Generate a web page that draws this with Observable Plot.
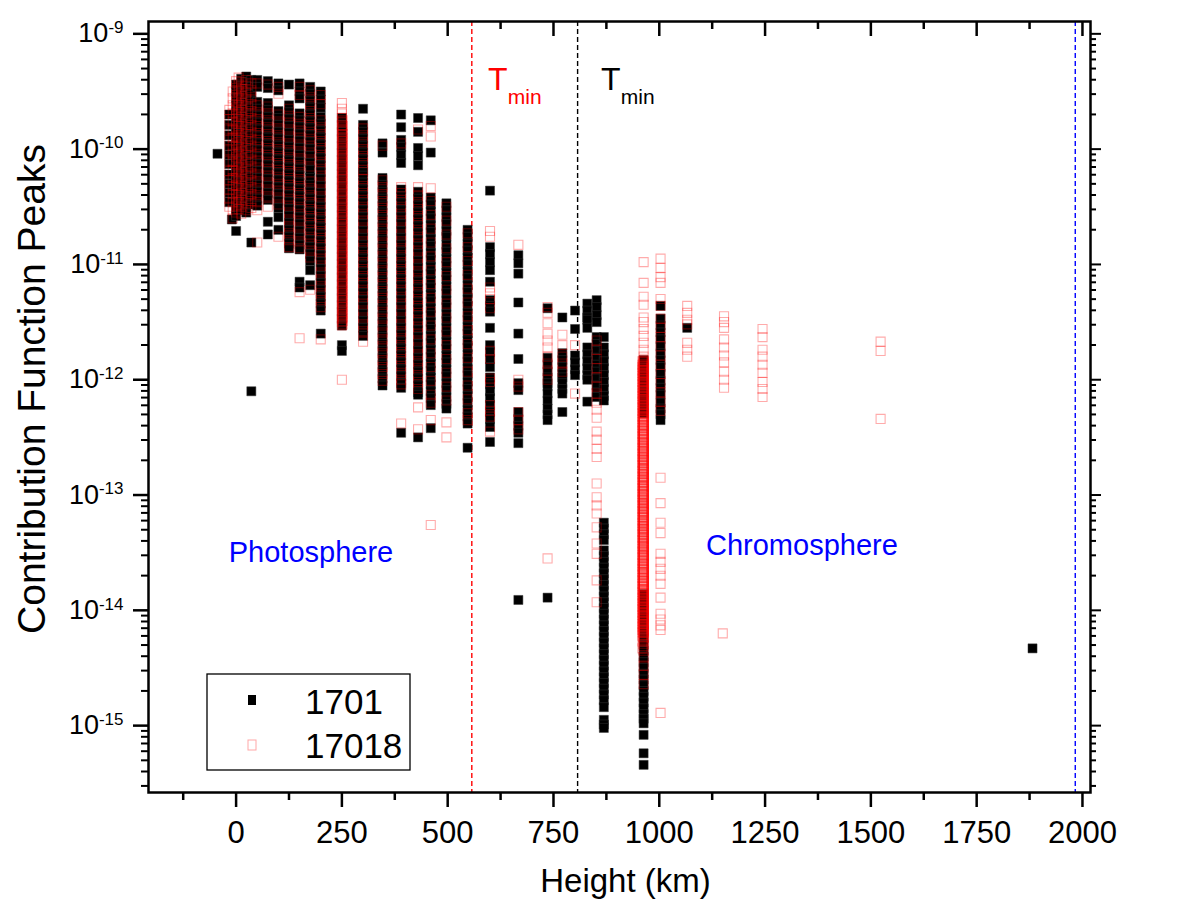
<!DOCTYPE html>
<html><head><meta charset="utf-8">
<script src="https://cdn.jsdelivr.net/npm/d3@7"></script>
<script src="https://cdn.jsdelivr.net/npm/@observablehq/plot@0.6"></script>
<style>
body{margin:0;background:#fff;}
#chart{width:1196px;height:919px;}
</style></head><body><div id="chart"></div>
<script>
// Each entry: [height km, [log10 of contribution function peak values]]
const cols1701 = [
 [-44,[-10.04]],
 [-16,[-9.70,-9.79,-9.88,-9.97,-10.05,-10.13,-10.22,-10.30,-10.38,-10.46]],
 [-10,[-10.61]],
 [0,[-9.44,-9.50,-9.56,-9.62,-9.68,-9.74,-9.80,-9.86,-9.92,-9.98,-10.04,-10.10,-10.16,-10.22,-10.28,-10.34,-10.40,-10.46,-10.52,-10.58,-10.71]],
 [12,[-9.39,-9.45,-9.51,-9.57,-9.63,-9.69,-9.75,-9.81,-9.87,-9.93,-9.99,-10.05,-10.11,-10.17,-10.23,-10.29,-10.35,-10.41,-10.47,-10.53]],
 [24,[-9.37,-9.42,-9.48,-9.54,-9.60,-9.66,-9.72,-9.78,-9.84,-9.90,-9.96,-10.02,-10.08,-10.14,-10.20,-10.26,-10.32,-10.38,-10.44,-10.50,-10.55]],
 [36,[-9.40,-9.46,-9.52,-9.58,-9.64,-9.70,-9.76,-9.82,-9.88,-9.94,-10.00,-10.06,-10.12,-10.18,-10.24,-10.30,-10.36,-10.42,-10.48,-10.81,-12.10]],
 [50,[-9.40,-9.46,-9.59,-9.65,-9.71,-9.77,-9.83,-9.89,-9.95,-10.01,-10.07,-10.13,-10.19,-10.25,-10.31,-10.37,-10.43,-10.49]],
 [75,[-9.41,-9.47,-9.60,-9.66,-9.72,-9.78,-9.84,-9.90,-9.96,-10.02,-10.08,-10.14,-10.20,-10.26,-10.32,-10.38,-10.44,-10.63,-10.74]],
 [100,[-9.43,-9.49,-9.67,-9.73,-9.79,-9.85,-9.91,-9.97,-10.03,-10.09,-10.15,-10.21,-10.27,-10.33,-10.39,-10.45,-10.51,-10.59,-10.70]],
 [125,[-9.44,-9.62,-9.68,-9.74,-9.80,-9.86,-9.92,-9.98,-10.04,-10.10,-10.16,-10.22,-10.28,-10.34,-10.40,-10.46,-10.52,-10.58,-10.64,-10.70,-10.76,-10.82,-10.86]],
 [150,[-9.43,-9.50,-9.56,-9.69,-9.75,-9.81,-9.87,-9.93,-9.99,-10.05,-10.11,-10.17,-10.23,-10.29,-10.35,-10.41,-10.47,-10.53,-10.59,-10.65,-10.71,-10.77,-10.83,-10.87,-11.15,-11.20]],
 [175,[-9.46,-9.52,-9.58,-9.64,-9.70,-9.76,-9.82,-9.88,-9.94,-10.00,-10.06,-10.12,-10.18,-10.25,-10.31,-10.37,-10.43,-10.49,-10.55,-10.61,-10.67,-10.73,-10.79,-10.85,-10.91,-10.97,-11.05,-11.18]],
 [200,[-9.50,-9.57,-9.64,-9.72,-9.78,-9.84,-9.90,-9.96,-10.02,-10.08,-10.14,-10.20,-10.26,-10.32,-10.38,-10.44,-10.50,-10.56,-10.62,-10.68,-10.74,-10.80,-10.86,-10.92,-10.98,-11.04,-11.10,-11.16,-11.22,-11.28,-11.34,-11.40,-11.60]],
 [250,[-9.73,-9.79,-9.85,-9.91,-9.97,-10.03,-10.09,-10.15,-10.21,-10.27,-10.33,-10.39,-10.45,-10.51,-10.57,-10.63,-10.69,-10.75,-10.81,-10.87,-10.93,-10.99,-11.05,-11.11,-11.17,-11.23,-11.29,-11.35,-11.41,-11.47,-11.53,-11.70,-11.75]],
 [300,[-9.65,-9.79,-9.85,-9.91,-9.97,-10.03,-10.09,-10.15,-10.20,-10.23,-10.29,-10.35,-10.41,-10.47,-10.53,-10.59,-10.65,-10.71,-10.77,-10.83,-10.89,-10.95,-11.01,-11.07,-11.13,-11.19,-11.25,-11.31,-11.37,-11.43,-11.49,-11.55,-11.62]],
 [346,[-9.95,-10.03,-10.25,-10.31,-10.37,-10.43,-10.49,-10.55,-10.61,-10.67,-10.73,-10.79,-10.85,-10.91,-10.97,-11.03,-11.09,-11.15,-11.21,-11.27,-11.33,-11.39,-11.45,-11.51,-11.57,-11.63,-11.69,-11.75,-11.81,-11.87,-11.93,-11.99,-12.05]],
 [390,[-9.70,-9.81,-9.92,-9.98,-10.05,-10.12,-10.35,-10.41,-10.47,-10.53,-10.59,-10.65,-10.71,-10.77,-10.83,-10.89,-10.95,-11.01,-11.07,-11.13,-11.19,-11.25,-11.31,-11.37,-11.43,-11.49,-11.55,-11.61,-11.67,-11.73,-11.79,-11.85,-11.91,-11.97,-12.03,-12.07,-12.46]],
 [430,[-9.73,-9.85,-9.99,-10.06,-10.14,-10.37,-10.43,-10.49,-10.55,-10.61,-10.67,-10.73,-10.79,-10.85,-10.91,-10.97,-11.03,-11.09,-11.15,-11.21,-11.27,-11.33,-11.39,-11.45,-11.51,-11.57,-11.63,-11.69,-11.75,-11.81,-11.87,-11.93,-11.99,-12.05,-12.11,-12.13,-12.50]],
 [460,[-9.75,-10.03,-10.42,-10.48,-10.54,-10.60,-10.66,-10.72,-10.78,-10.84,-10.90,-10.96,-11.02,-11.08,-11.14,-11.20,-11.26,-11.32,-11.38,-11.44,-11.50,-11.56,-11.62,-11.68,-11.74,-11.80,-11.86,-11.92,-11.98,-12.04,-12.10,-12.16,-12.22,-12.42]],
 [497,[-10.47,-10.53,-10.59,-10.65,-10.71,-10.76,-10.83,-10.89,-10.95,-11.01,-11.07,-11.13,-11.19,-11.25,-11.31,-11.37,-11.43,-11.49,-11.55,-11.61,-11.67,-11.73,-11.79,-11.85,-11.91,-11.97,-12.03,-12.09,-12.15,-12.21,-12.25]],
 [547,[-10.70,-10.76,-10.82,-10.88,-10.94,-11.00,-11.06,-11.12,-11.18,-11.24,-11.30,-11.36,-11.42,-11.48,-11.54,-11.60,-11.66,-11.72,-11.78,-11.84,-11.90,-11.96,-12.02,-12.08,-12.14,-12.20,-12.26,-12.32,-12.38,-12.59]],
 [600,[-10.36,-10.85,-10.91,-10.98,-11.05,-11.15,-11.31,-11.36,-11.41,-11.55,-11.70,-11.76,-11.82,-11.89,-11.98,-12.04,-12.10,-12.16,-12.22,-12.28,-12.34,-12.41,-12.54]],
 [667,[-10.92,-10.99,-11.08,-11.33,-11.60,-11.82,-12.03,-12.09,-12.28,-12.34,-12.40,-12.46,-12.55,-13.91]],
 [736,[-11.38,-11.81,-11.87,-11.93,-11.98,-12.03,-12.06,-12.12,-12.18,-12.25,-12.30,-12.35,-13.89]],
 [771,[-11.46,-11.77,-11.83,-11.89,-11.95,-11.98,-12.03,-12.08,-12.12,-12.28]],
 [801,[-11.40,-11.56,-11.79,-11.85,-11.91,-11.96]],
 [830,[-11.34,-11.40,-11.46,-11.48,-11.55,-11.72,-11.78,-11.84,-11.90,-11.96,-12.00,-12.19]],
 [852,[-11.31,-11.37,-11.44,-11.50,-11.63,-11.69,-11.75,-11.81,-11.87,-11.93,-11.99,-12.05,-12.11,-12.15]],
 [869,[-11.63,-11.72,-11.78,-11.84,-11.90,-11.96,-12.02,-12.08,-12.14,-12.18,-13.24,-13.29,-13.34,-13.39,-13.48,-13.53,-13.58,-13.63,-13.68,-13.73,-13.78,-13.83,-13.88,-13.93,-13.98,-14.03,-14.08,-14.13,-14.18,-14.23,-14.28,-14.33,-14.38,-14.43,-14.48,-14.53,-14.58,-14.63,-14.68,-14.73,-14.78,-14.84,-14.95,-14.99,-15.02]],
 [963,[-11.83,-11.90,-11.97,-12.04,-12.11,-12.18,-12.25,-12.29,-13.86,-13.93,-14.00,-14.06,-14.12,-14.18,-14.24,-14.30,-14.35,-14.40,-14.45,-14.50,-14.55,-14.60,-14.65,-14.70,-14.75,-14.80,-14.85,-14.90,-14.94,-14.98,-15.08,-15.24,-15.34]],
 [1003,[-11.36,-11.47,-11.53,-11.59,-11.65,-11.71,-11.77,-11.83,-11.89,-11.95,-12.01,-12.07,-12.13,-12.20,-12.25,-12.30,-12.35]],
 [1066,[-11.55]],
 [1882,[-14.33]]
];
const cols17018 = [
 [-16,[-9.66,-9.74,-9.83,-9.92,-10.01,-10.10,-10.19,-10.27,-10.35,-10.43,-10.50]],
 [-8,[-9.50,-9.56,-9.62,-9.69,-9.76,-9.83,-9.90,-9.97,-10.04,-10.11,-10.18,-10.25,-10.32,-10.39,-10.46,-10.53,-10.60]],
 [0,[-9.41,-9.47,-9.53,-9.59,-9.65,-9.71,-9.77,-9.83,-9.89,-9.95,-10.01,-10.07,-10.13,-10.19,-10.25,-10.31,-10.37,-10.43,-10.49,-10.55]],
 [6,[-9.38,-9.44,-9.50,-9.56,-9.62,-9.68,-9.74,-9.80,-9.86,-9.92,-9.98,-10.04,-10.10,-10.16,-10.22,-10.28,-10.34,-10.40,-10.46,-10.52]],
 [12,[-9.42,-9.48,-9.54,-9.60,-9.66,-9.72,-9.78,-9.84,-9.90,-9.96,-10.02,-10.08,-10.14,-10.20,-10.26,-10.32,-10.38,-10.44,-10.50,-10.56]],
 [24,[-9.40,-9.45,-9.51,-9.57,-9.63,-9.69,-9.75,-9.81,-9.87,-9.93,-9.99,-10.05,-10.11,-10.17,-10.23,-10.29,-10.35,-10.41,-10.47,-10.53]],
 [36,[-9.43,-9.49,-9.55,-9.61,-9.67,-9.73,-9.79,-9.85,-9.91,-9.97,-10.03,-10.09,-10.15,-10.21,-10.27,-10.33,-10.39,-10.45,-10.51]],
 [50,[-9.43,-9.62,-9.68,-9.74,-9.80,-9.86,-9.92,-9.98,-10.04,-10.10,-10.16,-10.22,-10.28,-10.34,-10.40,-10.46,-10.53,-10.81]],
 [75,[-9.44,-9.63,-9.69,-9.75,-9.81,-9.87,-9.93,-9.99,-10.05,-10.11,-10.17,-10.23,-10.29,-10.35,-10.41,-10.50]],
 [100,[-9.46,-9.52,-9.70,-9.76,-9.82,-9.88,-9.94,-10.00,-10.06,-10.12,-10.18,-10.24,-10.30,-10.36,-10.42,-10.48,-10.76]],
 [125,[-9.65,-9.71,-9.77,-9.83,-9.89,-9.95,-10.01,-10.07,-10.13,-10.19,-10.25,-10.31,-10.37,-10.43,-10.49,-10.55,-10.61,-10.67,-10.73,-10.79,-10.85]],
 [150,[-9.46,-9.53,-9.72,-9.78,-9.84,-9.90,-9.96,-10.02,-10.08,-10.14,-10.20,-10.26,-10.32,-10.38,-10.44,-10.50,-10.56,-10.62,-10.68,-10.74,-10.80,-10.86,-11.24,-11.64]],
 [175,[-9.49,-9.55,-9.61,-9.67,-9.73,-9.79,-9.85,-9.91,-9.97,-10.03,-10.09,-10.15,-10.28,-10.34,-10.40,-10.46,-10.52,-10.58,-10.64,-10.70,-10.76,-10.82,-10.88,-10.94,-11.22]],
 [200,[-9.53,-9.61,-9.75,-9.81,-9.87,-9.93,-9.99,-10.05,-10.11,-10.17,-10.23,-10.29,-10.35,-10.41,-10.47,-10.53,-10.59,-10.65,-10.71,-10.77,-10.83,-10.89,-10.95,-11.01,-11.07,-11.13,-11.19,-11.25,-11.31,-11.37,-11.65]],
 [250,[-9.60,-9.65,-9.69,-9.73,-9.76,-9.79,-9.82,-9.85,-9.88,-9.91,-9.94,-9.97,-10.00,-10.03,-10.06,-10.09,-10.12,-10.15,-10.18,-10.21,-10.24,-10.27,-10.30,-10.33,-10.36,-10.39,-10.42,-10.45,-10.48,-10.51,-10.54,-10.57,-10.60,-10.63,-10.66,-10.69,-10.72,-10.75,-10.78,-10.81,-10.84,-10.87,-10.90,-10.93,-10.96,-10.99,-11.02,-11.05,-11.08,-11.11,-11.14,-11.17,-11.20,-11.23,-11.26,-11.29,-11.32,-11.35,-11.38,-11.41,-11.44,-11.47,-11.50,-11.53,-12.00]],
 [252,[-9.75,-9.80,-9.84,-9.87,-9.90,-9.93,-9.96,-9.99,-10.02,-10.05,-10.08,-10.11,-10.14,-10.17,-10.20,-10.23,-10.26,-10.29,-10.32,-10.35,-10.38,-10.41,-10.44,-10.47,-10.50,-10.53,-10.56,-10.59,-10.62,-10.65,-10.68,-10.71,-10.74,-10.77,-10.80,-10.83,-10.86,-10.89,-10.92,-10.95,-10.98,-11.01,-11.04,-11.07,-11.10,-11.13,-11.16,-11.19,-11.22,-11.25,-11.28,-11.31,-11.34,-11.37,-11.40,-11.43,-11.46,-11.49,-11.52]],
 [300,[-9.82,-9.88,-9.94,-10.00,-10.06,-10.12,-10.18,-10.26,-10.32,-10.38,-10.44,-10.50,-10.56,-10.62,-10.68,-10.74,-10.80,-10.86,-10.92,-10.98,-11.04,-11.10,-11.16,-11.22,-11.28,-11.34,-11.40,-11.46,-11.52,-11.58,-11.67]],
 [346,[-9.97,-10.27,-10.33,-10.39,-10.45,-10.51,-10.57,-10.63,-10.69,-10.75,-10.81,-10.87,-10.93,-10.99,-11.05,-11.11,-11.17,-11.23,-11.29,-11.35,-11.41,-11.47,-11.53,-11.59,-11.65,-11.71,-11.77,-11.83,-11.89,-11.95,-12.01]],
 [390,[-9.95,-10.33,-10.38,-10.44,-10.50,-10.56,-10.62,-10.68,-10.74,-10.80,-10.86,-10.92,-10.98,-11.04,-11.10,-11.16,-11.22,-11.28,-11.34,-11.40,-11.46,-11.52,-11.58,-11.64,-11.70,-11.76,-11.82,-11.88,-11.94,-12.00,-12.04,-12.38]],
 [430,[-9.83,-10.33,-10.40,-10.46,-10.52,-10.58,-10.64,-10.70,-10.76,-10.82,-10.88,-10.94,-11.00,-11.06,-11.12,-11.18,-11.24,-11.30,-11.36,-11.42,-11.48,-11.54,-11.60,-11.66,-11.72,-11.78,-11.84,-11.90,-11.96,-12.02,-12.08,-12.24,-12.43]],
 [460,[-9.80,-9.89,-10.34,-10.45,-10.57,-10.69,-10.81,-10.93,-11.05,-11.17,-11.29,-11.41,-11.53,-11.65,-11.77,-11.89,-12.01,-12.13,-12.20,-12.35,-13.26]],
 [497,[-10.50,-10.62,-10.74,-10.86,-10.98,-11.10,-11.22,-11.34,-11.46,-11.58,-11.70,-11.82,-11.94,-12.06,-12.18,-12.37,-12.50]],
 [547,[-10.73,-10.85,-10.97,-11.09,-11.21,-11.33,-11.45,-11.57,-11.69,-11.81,-11.93,-12.05,-12.17,-12.29,-12.35]],
 [600,[-10.71,-10.76,-11.20,-11.25,-11.30,-11.38,-11.75,-11.82,-11.99,-12.02,-12.22,-12.27,-12.32,-12.45]],
 [667,[-10.83,-12.00,-12.06,-12.28,-12.35,-12.43]],
 [736,[-11.37,-11.42,-11.51,-11.60,-11.66,-11.72,-11.80,-11.86,-11.92,-12.00,-13.55]],
 [771,[-11.61,-11.70,-11.80,-11.86,-11.93]],
 [801,[-11.70,-12.12]],
 [852,[-11.66,-11.74,-11.82,-11.90,-11.98,-12.06,-12.12,-12.20,-12.26,-12.33,-12.45,-12.52,-12.60,-12.67,-12.90,-13.02,-13.09,-13.16,-13.28,-13.42,-13.51,-13.74,-13.93]],
 [963,[-10.98,-11.16,-11.28,-11.35,-11.46,-11.50,-11.56,-11.62,-11.68,-11.74,-11.80,
   -11.83,-11.85,-11.88,-11.90,-11.93,-11.95,-11.98,-12.00,-12.03,-12.05,-12.08,-12.10,-12.13,-12.15,-12.18,-12.20,-12.23,-12.25,-12.28,-12.30,
   -12.33,-12.35,-12.38,-12.40,-12.43,-12.45,-12.48,-12.50,-12.53,-12.55,-12.58,-12.60,-12.63,-12.65,-12.68,-12.70,-12.73,-12.75,-12.78,-12.80,
   -12.83,-12.85,-12.88,-12.90,-12.93,-12.95,-12.98,-13.00,-13.03,-13.05,-13.08,-13.10,-13.13,-13.15,-13.18,-13.20,-13.23,-13.25,-13.28,-13.30,
   -13.33,-13.35,-13.38,-13.40,-13.43,-13.45,-13.48,-13.50,-13.53,-13.55,-13.58,-13.60,-13.63,-13.65,-13.68,-13.70,-13.73,-13.75,-13.78,-13.80,
   -13.83,-13.85,-13.88,-13.90,-13.93,-13.95,-13.98,-14.00,-14.03,-14.05,-14.08,-14.10,-14.13,-14.15,-14.18,-14.20,-14.24,-14.29,-14.35,-14.41,-14.48,-14.56,-14.64,
   -11.836,-11.862,-11.884,-11.913,-11.937,-11.958,-11.987,-12.012,-12.034,-12.062,-12.088,-12.109,-12.137,-12.163,-12.184,-12.212,-12.238,-12.259,-12.287,-12.313,
   -12.334,-12.362,-12.388,-12.409,-12.437,-12.463,-12.484,-12.512,-12.538,-12.559,-12.587,-12.613,-12.634,-12.662,-12.688,-12.709,-12.737,-12.763,-12.784,-12.812,
   -12.838,-12.859,-12.887,-12.913,-12.934,-12.962,-12.988,-13.009,-13.037,-13.063,-13.084,-13.112,-13.138,-13.159,-13.187,-13.213,-13.234,-13.262,-13.288,-13.309,
   -13.337,-13.363,-13.384,-13.412,-13.438,-13.459,-13.487,-13.513,-13.534,-13.562,-13.588,-13.609,-13.637,-13.663,-13.684,-13.712,-13.738,-13.759,-13.787,-13.813,
   -13.834,-13.862,-13.888,-13.909,-13.937,-13.963,-13.984,-14.012,-14.038,-14.059,-14.087,-14.113,-14.134,-14.162,-14.188,-14.215,-14.26,
   -11.843,-11.868,-11.897,-11.921,-11.946,-11.972,-11.994,-12.019,-12.046,-12.071,-12.096,-12.121,-12.146,-12.171,-12.196,-12.221,-12.246,-12.271,-12.296,-12.321,
   -12.346,-12.371,-12.396,-12.421,-12.446,-12.471,-12.496,-12.521,-12.546,-12.571,-12.596,-12.621,-12.646,-12.671,-12.696,-12.721,-12.746,-12.771,-12.796,-12.821,
   -12.846,-12.871,-12.896,-12.921,-12.946,-12.971,-12.996,-13.021,-13.046,-13.071,-13.096,-13.121,-13.146,-13.171,-13.196,-13.221,-13.246,-13.271,-13.296,-13.321,
   -13.346,-13.371,-13.396,-13.421,-13.446,-13.471,-13.496,-13.521,-13.546,-13.571,-13.596,-13.621,-13.646,-13.671,-13.696,-13.721,-13.746,-13.771,-13.796,-13.821,
   -13.846,-13.871,-13.896,-13.921,-13.946,-13.971,-13.996,-14.021,-14.046,-14.071,-14.096,-14.121,-14.146,-14.171,-14.196,-14.23,-14.31]],
 [960,[-11.84,-11.87,-11.89,-11.92,-11.94,-11.97,-11.99,-12.02,-12.04,-12.07,-12.09,-12.12,-12.14,-12.17,-12.19,-12.22,-12.24,-12.27,-12.29,-12.32,
   -12.34,-12.37,-12.39,-12.42,-12.44,-12.47,-12.49,-12.52,-12.54,-12.57,-12.59,-12.62,-12.64,-12.67,-12.69,-12.72,-12.74,-12.77,-12.79,-12.82,
   -12.84,-12.87,-12.89,-12.92,-12.94,-12.97,-12.99,-13.02,-13.04,-13.07,-13.09,-13.12,-13.14,-13.17,-13.19,-13.22,-13.24,-13.27,-13.29,-13.32,
   -13.34,-13.37,-13.39,-13.42,-13.44,-13.47,-13.49,-13.52,-13.54,-13.57,-13.59,-13.62,-13.64,-13.67,-13.69,-13.72,-13.74,-13.77,-13.79,-13.82,
   -13.84,-13.87,-13.89,-13.92,-13.94,-13.97,-13.99,-14.02,-14.04,-14.07,-14.09,-14.12,-14.14,-14.17,-14.19,-14.22,-14.27,-14.33]],
 [1003,[-10.95,-11.03,-11.11,-11.16,-11.30,-11.36,-11.47,-11.55,-11.63,-11.71,-11.79,-11.87,-11.95,-12.03,-12.11,-12.19,-12.27,-12.85,-13.07,-13.24,-13.33,-13.51,-13.58,-13.64,-13.70,-13.77,-13.89,-14.03,-14.08,-14.13,-14.17,-14.89]],
 [1066,[-11.36,-11.42,-11.48,-11.52,-11.68,-11.74,-11.80]],
 [1150,[-14.20]],
 [1153,[-11.45,-11.50,-11.55,-11.65,-11.72,-11.79,-11.85,-11.93,-12.00,-12.07]],
 [1244,[-11.56,-11.63,-11.74,-11.80,-11.87,-11.94,-12.02,-12.08,-12.15]],
 [1523,[-11.67,-11.75,-12.34]]
];
const seriesNames = ["1701", "17018"];
const xMajor = [0,250,500,750,1000,1250,1500,1750,2000];
const xMinor = [-125,125,375,625,875,1125,1375,1625,1875];
const yDecades = [-15,-14,-13,-12,-11,-10,-9];
const tminLines = [{h:557, color:"red"}, {h:807, color:"black"}];
const chromoTop = [{h:1983, color:"blue"}];
const tminLabels = [{h:595, e:-9.40, hs:642, es:-9.55, color:"red"}, {h:862, e:-9.40, hs:909, es:-9.55, color:"black"}];
const regionLabels = [{h:177, e:-13.50, text:"Photosphere"}, {h:1337, e:-13.44, text:"Chromosphere"}];

const toPoints = cols => cols.flatMap(([h, es]) => es.map(e => ({h, v: Math.pow(10, e)})));
const pts1701 = toPoints(cols1701);
const pts17018 = toPoints(cols17018);
const yMajor = yDecades.map(d => Math.pow(10, d));
const yLo = Math.pow(10, -15.58), yHi = Math.pow(10, -8.893);
const yMinor = [];
for (let d = -16; d <= -10; d++) for (let k = 2; k <= 9; k++) { const v = k * Math.pow(10, d); if (v > yLo && v < yHi) yMinor.push(v); }

const W = 1196, H = 919, mT = 21, mB = 127, mL = 148, mR = 106;
const FH = H - mT - mB;
const FONT = "'Liberation Sans', Arial, sans-serif";

const chart = Plot.plot({
  width: W, height: H,
  marginTop: mT, marginBottom: mB, marginLeft: mL, marginRight: mR,
  style: {fontFamily: FONT, background: "white", color: "black"},
  x: {domain: [-207, 2019]},
  y: {type: "log", domain: [yLo, yHi]},
  marks: [
    Plot.ruleX(tminLines, {x: "h", stroke: d => d.color, strokeWidth: 1.4, strokeDasharray: "5,3"}),
    Plot.ruleX(chromoTop, {x: "h", stroke: "blue", strokeWidth: 1.4, strokeDasharray: "5,3"}),
    Plot.dot(pts1701, {x: "h", y: "v", symbol: "square", r: 5.1, fill: "black", stroke: "#333", strokeWidth: 0.5}),
    Plot.dot(pts17018, {x: "h", y: "v", symbol: "square", r: 5.1, fill: "none", stroke: "red", strokeOpacity: 0.33, strokeWidth: 1.1}),
    Plot.text(regionLabels, {x: "h", y: d => Math.pow(10, d.e), text: "text", fill: "blue", fontSize: 29, textAnchor: "middle"}),
    Plot.text(tminLabels, {x: "h", y: d => Math.pow(10, d.e), text: () => "T", fill: d => d.color, fontSize: 32, textAnchor: "start"}),
    Plot.text(tminLabels, {x: "hs", y: d => Math.pow(10, d.es), text: () => "min", fill: d => d.color, fontSize: 21, textAnchor: "start"}),
    Plot.frame({stroke: "black", strokeWidth: 2.5}),
    Plot.axisX(xMajor, {anchor: "bottom", tickSize: 15, tickPadding: 13, fontSize: 31, strokeWidth: 2.5, label: null, tickFormat: d => String(d)}),
    Plot.axisX(xMinor, {anchor: "bottom", tickSize: 8, strokeWidth: 2.5, label: null, tickFormat: () => ""}),
    Plot.ruleX(xMajor, {insetBottom: FH - 15, stroke: "black", strokeWidth: 2.5}),
    Plot.ruleX(xMinor, {insetBottom: FH - 8, stroke: "black", strokeWidth: 2.5}),
    Plot.axisY(yMajor, {anchor: "left", tickSize: 15, tickPadding: 10, fontSize: 27, strokeWidth: 2.5, label: null, tickFormat: d => "10^" + Math.round(Math.log10(d))}),
    Plot.axisY(yMinor, {anchor: "left", tickSize: 7, strokeWidth: 2, label: null, tickFormat: () => ""}),
    Plot.axisY(yMajor, {anchor: "right", tickSize: 10, strokeWidth: 2, label: null, tickFormat: () => ""}),
    Plot.axisY(yMinor, {anchor: "right", tickSize: 5, strokeWidth: 2, label: null, tickFormat: () => ""}),
    Plot.text(["Height (km)"], {frameAnchor: "bottom", dy: 99, dx: 6, text: d => d, fontSize: 33, textAnchor: "middle"}),
    Plot.text(["Contribution Function Peaks"], {frameAnchor: "left", dx: -116, dy: -18, rotate: -90, text: d => d, fontSize: 39, textAnchor: "middle"})
  ]
});

// superscript exponents on the log axis labels
d3.select(chart).selectAll('g[aria-label="y-axis tick label"] text').each(function() {
  const t = d3.select(this);
  const s = t.text();
  if (!s.includes("^")) return;
  const exp = s.split("^")[1];
  t.text(null);
  t.append("tspan").text("10");
  t.append("tspan").attr("dy", "-0.55em").attr("font-size", "17px").text(exp);
});

// legend box
const svg = d3.select(chart);
const lg = svg.append("g").attr("font-family", FONT).attr("text-anchor", "start");
lg.append("rect").attr("x", 207).attr("y", 674).attr("width", 203).attr("height", 96)
  .attr("fill", "white").attr("stroke", "black").attr("stroke-width", 1.3);
lg.append("rect").attr("x", 248).attr("y", 695).attr("width", 8).attr("height", 10).attr("fill", "black");
lg.append("rect").attr("x", 248).attr("y", 740).attr("width", 8).attr("height", 10)
  .attr("fill", "none").attr("stroke", "red").attr("stroke-opacity", 0.35);
lg.append("text").attr("x", 305).attr("y", 714).attr("font-size", 35).attr("text-anchor", "start").text(seriesNames[0]);
lg.append("text").attr("x", 305).attr("y", 758).attr("font-size", 35).attr("text-anchor", "start").text(seriesNames[1]);

document.getElementById("chart").appendChild(chart);
</script>
</body></html>
